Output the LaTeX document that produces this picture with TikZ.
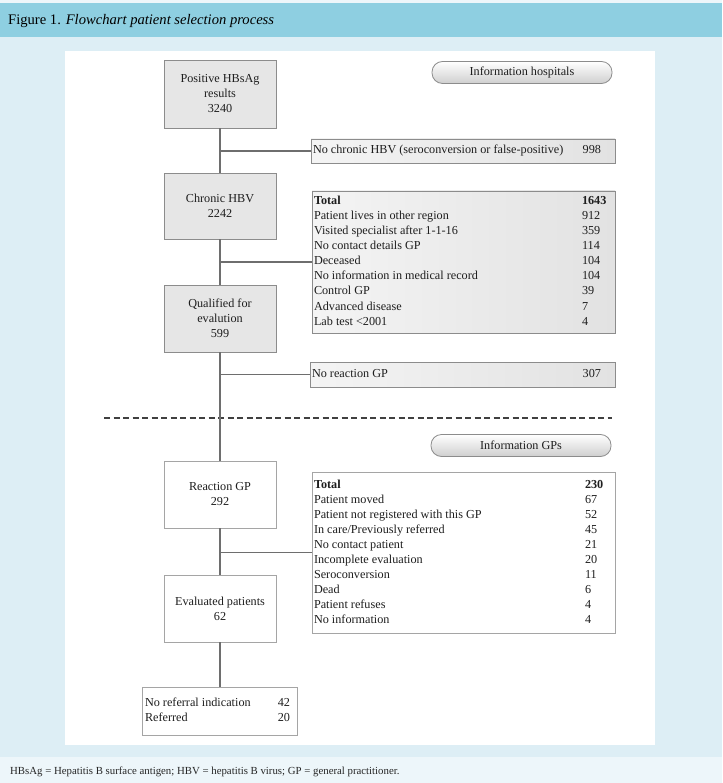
\documentclass[tikz,border=0pt]{standalone}
\usepackage{fontspec}
\setmainfont{Liberation Serif}
\definecolor{hdr}{RGB}{142,207,225}
\definecolor{bgl}{RGB}{221,238,245}
\definecolor{ftr}{RGB}{237,246,250}
\definecolor{lin}{RGB}{110,110,110}
\definecolor{txt}{RGB}{30,30,30}
\definecolor{boxfill}{RGB}{230,230,230}
\definecolor{boxdraw}{RGB}{140,140,140}
\definecolor{wbdraw}{RGB}{165,165,165}
\definecolor{listl}{RGB}{244,244,244}
\definecolor{listr}{RGB}{226,226,226}
\begin{document}
\begin{tikzpicture}[x=1pt,y=-1pt,
  every node/.style={font=\fontsize{12.2}{15}\selectfont, text=txt},
  graybox/.style={draw=boxdraw, fill=boxfill, line width=0.8pt, inner sep=0pt, align=center},
  listbox/.style={draw=boxdraw, left color=listl, right color=listr, line width=0.8pt, inner sep=0pt},
  whitebox/.style={draw=wbdraw, fill=white, line width=0.8pt, inner sep=0pt, align=center},
  pill/.style={draw=boxdraw, rounded corners=10.5pt, top color=white, bottom color=boxfill!90!black, line width=0.8pt, minimum width=180pt, minimum height=22pt, inner sep=0pt},
  conn/.style={draw=lin, line width=1.9pt},
  dashline/.style={draw=black!75, line width=1.3pt, dash pattern=on 6pt off 3.5pt}]
\useasboundingbox (0,0) rectangle (722,783);
% backgrounds
\fill[ftr] (0,0) rectangle (722,783);
\fill[bgl] (0,37) rectangle (722,757);
\fill[hdr] (0,3) rectangle (722,37);
\fill[white] (65,51) rectangle (655,745);
% header and footer
\node[anchor=base west, font=\fontsize{14.6}{16}\selectfont, text=black, inner sep=0pt] (title) at (8,25) {Figure 1. \textit{Flowchart patient selection process}};
\node[anchor=base west, font=\fontsize{10.8}{12}\selectfont, text=black!85, inner sep=0pt] (foot) at (10,774) {HBsAg = Hepatitis B surface antigen; HBV = hepatitis B virus; GP = general practitioner.};
% dashed separator
\coordinate (dl) at (104,418);
\coordinate (dr) at (612,418);
\draw[dashline] (dl) -- (dr);
% main column
\node[graybox, minimum width=112pt, minimum height=68pt] (pos) at (220,94) {Positive HBsAg\\results\\3240};
\node[graybox, minimum width=112pt, minimum height=66pt] (chr) at (220,206) {Chronic HBV\\2242};
\node[graybox, minimum width=112pt, minimum height=67pt] (qual) at (220,318.5) {Qualified for\\evalution\\599};
\node[whitebox, minimum width=112pt, minimum height=67pt] (rgp) at (220,494.5) {Reaction GP\\292};
\node[whitebox, minimum width=112pt, minimum height=67pt] (evl) at (220,608.5) {Evaluated patients\\62};
\node[whitebox, minimum width=155pt, minimum height=48pt] (ref) at (220,711) {\begin{tabular*}{150pt}{@{\extracolsep{\fill}}l@{}r@{\hspace{5pt}}}No referral indication & 42\\ Referred & 20\end{tabular*}};
% info pills
\node[pill] (ih) at (522,72.5) {Information hospitals};
\node[pill] (igp) at (521,445.5) {Information GPs};
% side boxes
\node[listbox, minimum width=304pt, minimum height=24pt] (nochr) at (463,151) {\begin{tabular*}{300pt}{@{\extracolsep{\fill}}l@{}r@{\hspace{12pt}}}No chronic HBV (seroconversion or false-positive) & 998\end{tabular*}};
\node[listbox, minimum width=303pt, minimum height=142pt] (big1) at (463.5,262) {\begin{tabular}{@{}p{268pt}@{}p{31pt}@{}}
\textbf{Total} & \textbf{1643}\\
Patient lives in other region & 912\\
Visited specialist after 1-1-16 & 359\\
No contact details GP & 114\\
Deceased & 104\\
No information in medical record & 104\\
Control GP & 39\\
Advanced disease & 7\\
Lab test <2001 & 4
\end{tabular}};
\node[listbox, minimum width=305pt, minimum height=25pt] (noreact) at (462.5,374.5) {\begin{tabular*}{301pt}{@{\extracolsep{\fill}}l@{}r@{\hspace{12pt}}}No reaction GP & 307\end{tabular*}};
\node[whitebox, minimum width=303pt, minimum height=161pt] (big2) at (463.5,552.5) {\begin{tabular}{@{}p{271pt}@{}p{28pt}@{}}
\textbf{Total} & \textbf{230}\\
Patient moved & 67\\
Patient not registered with this GP & 52\\
In care/Previously referred & 45\\
No contact patient & 21\\
Incomplete evaluation & 20\\
Seroconversion & 11\\
Dead & 6\\
Patient refuses & 4\\
No information & 4
\end{tabular}};
% connectors
\draw[conn] (pos.south) -- (chr.north);
\draw[conn] (chr.south) -- (qual.north);
\draw[conn] (qual.south) -- (rgp.north);
\draw[conn] (rgp.south) -- (evl.north);
\draw[conn] (evl.south) -- (ref.north);
\draw[conn] (pos.south |- nochr.west) -- (nochr.west);
\draw[conn] (chr.south |- big1.west) -- (big1.west);
\draw[conn] (qual.south |- noreact.west) -- (noreact.west);
\draw[conn] (rgp.south |- big2.west) -- (big2.west);
\end{tikzpicture}
\end{document}
